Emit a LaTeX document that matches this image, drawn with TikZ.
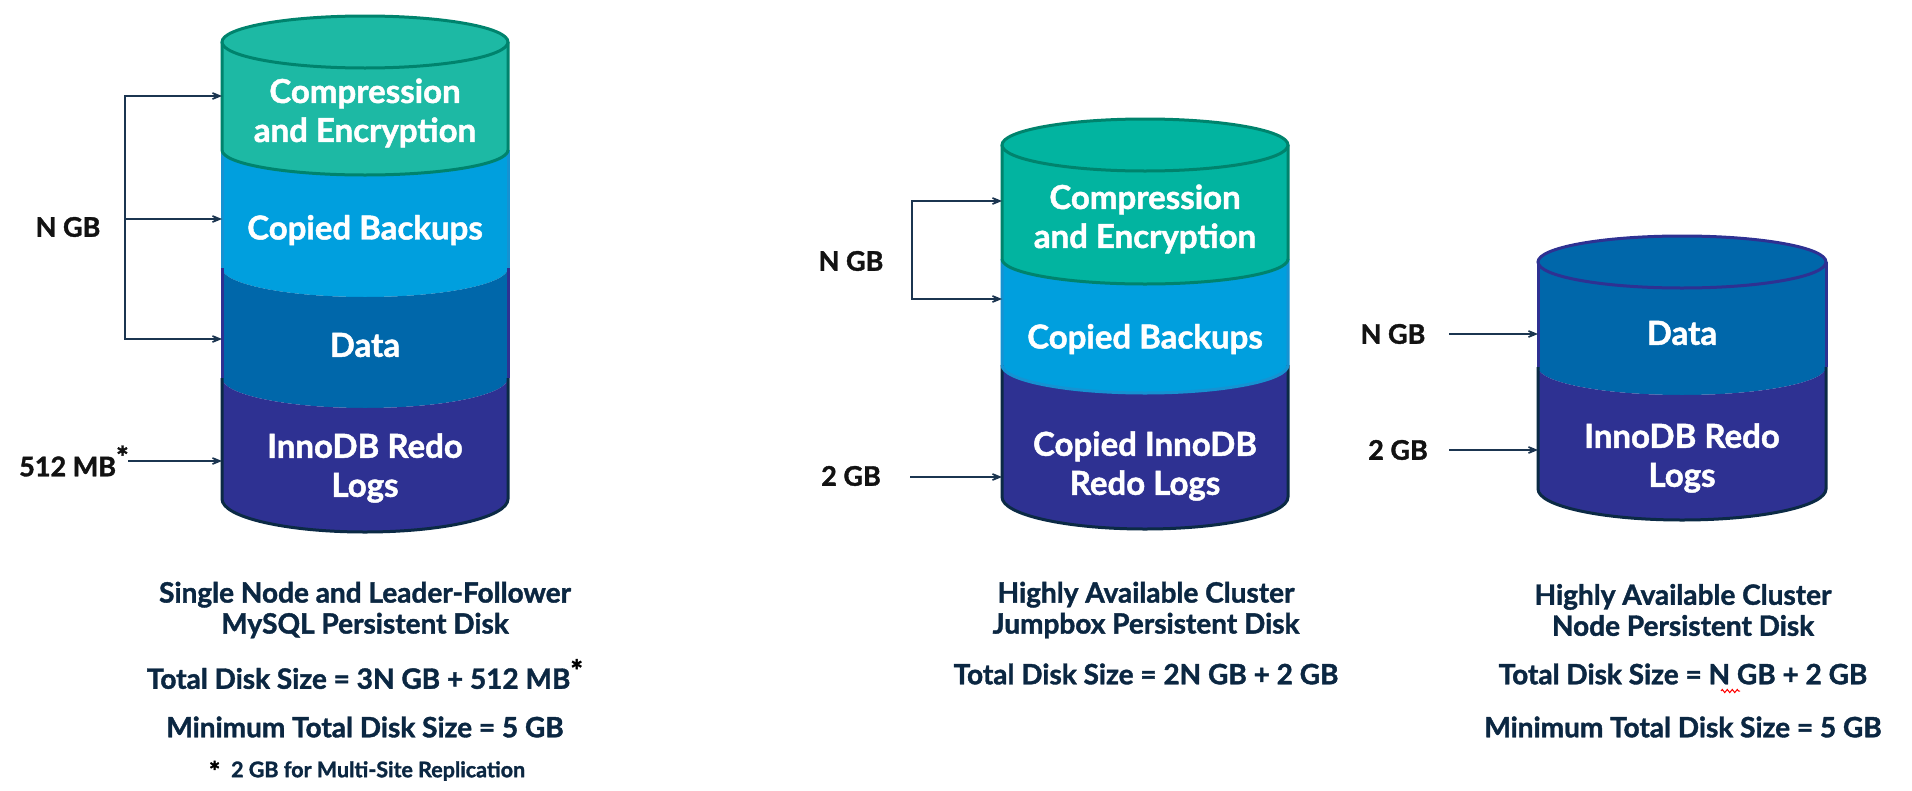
\documentclass[tikz,border=0pt]{standalone}
\usepackage{fontspec}
\setmainfont{Lato}[BoldFeatures={FakeBold=1.4}]
\usetikzlibrary{arrows.meta,decorations.pathmorphing}
\definecolor{greenA}{HTML}{1DB9A4}
\definecolor{greenB}{HTML}{02B4A0}
\definecolor{greenL}{HTML}{00836D}
\definecolor{blueA}{HTML}{009FDE}
\definecolor{blueL}{HTML}{1592D2}
\definecolor{dataA}{HTML}{0067AA}
\definecolor{indigoA}{HTML}{2E3192}
\definecolor{navyL}{HTML}{0B2A45}
\definecolor{captxt}{HTML}{0B2742}
\definecolor{arrowc}{HTML}{1B3550}
\definecolor{sidetxt}{HTML}{121212}
% band: cx, rx, ytop, rytop, ybot, rybot, colour
\newcommand\cylband[7]{\fill[#7] (#1-#2,-#3) -- (#1-#2,-#5) arc[start angle=180,end angle=360,x radius=#2,y radius=#6] -- (#1+#2,-#3) arc[start angle=0,end angle=-180,x radius=#2,y radius=#4] -- cycle;}
% rim: cx, rx, ytop, ybot, rybot, colour
\newcommand\cylrim[6]{\draw[#6,line width=3pt] (#1-#2,-#3) -- (#1-#2,-#4) arc[start angle=180,end angle=360,x radius=#2,y radius=#5] -- (#1+#2,-#3);}
% sides: cx, rx, ytop, ybot, colour
\newcommand\cylsides[5]{\draw[#5,line width=3pt] (#1-#2,-#3) -- (#1-#2,-#4) (#1+#2,-#3) -- (#1+#2,-#4);}
\tikzset{
  mytip/.tip={Stealth[length=17pt,width=14pt,inset=11pt]},
  lbl/.style={text=white,font=\fontsize{33}{39}\selectfont\bfseries,align=center,inner sep=0pt},
  sidelbl/.style={text=sidetxt,font=\fontsize{27}{32}\selectfont\bfseries,inner sep=0pt},
  captext/.style={text=captxt,font=\fontsize{28}{31}\selectfont\bfseries,align=center,inner sep=0pt},
  foottext/.style={text=captxt,font=\fontsize{21.5}{26}\selectfont\bfseries,inner sep=0pt},
  conn/.style={draw=arrowc,line width=2pt,-mytip},
  bconn/.style={draw=arrowc,line width=2pt,mytip-mytip},
}
\begin{document}
\begin{tikzpicture}[x=1pt,y=1pt]
\fill[white] (0,0) rectangle (1912,-790);
\useasboundingbox (0,0) rectangle (1912,-790);

% ---------- cylinder 1 ----------
\cylband{365}{143}{42}{26}{150}{25}{greenA}
\cylband{365}{143}{150}{25}{268}{29}{blueA}
\cylband{365}{143}{268}{29}{378}{30}{dataA}
\cylband{365}{143}{378}{30}{499}{33}{indigoA}
\cylsides{365}{143}{150}{268}{blueL}
\cylsides{365}{143}{268}{378}{indigoA}
\cylrim{365}{143}{378}{499}{33}{navyL}
\cylrim{365}{143}{42}{150}{25}{greenL}
\filldraw[fill=greenA,draw=greenL,line width=3pt] (365,-42) ellipse[x radius=143,y radius=26];

\node[lbl] (c1a) at (365,-113) {Compression\\and Encryption};
\node[lbl] (c1b) at (365,-230) {Copied Backups};
\node[lbl] (c1c) at (365,-345) {Data};
\node[lbl] (c1d) at (365,-468) {InnoDB Redo\\Logs};

% ---------- cylinder 2 ----------
\cylband{1145}{143}{145}{26}{259}{25}{greenB}
\cylband{1145}{143}{259}{25}{365}{28}{blueA}
\cylband{1145}{143}{365}{28}{497}{32}{indigoA}
\cylrim{1145}{143}{365}{497}{32}{navyL}
\cylrim{1145}{143}{259}{365}{28}{blueL}
\cylrim{1145}{143}{145}{259}{25}{greenL}
\filldraw[fill=greenB,draw=greenL,line width=3pt] (1145,-145) ellipse[x radius=143,y radius=26];

\node[lbl] (c2a) at (1145,-219) {Compression\\and Encryption};
\node[lbl] (c2b) at (1145,-339) {Copied Backups};
\node[lbl] (c2c) at (1145,-466) {Copied InnoDB\\Redo Logs};

% ---------- cylinder 3 ----------
\cylband{1682}{144}{262}{26}{367}{28}{dataA}
\cylband{1682}{144}{367}{28}{489}{31}{indigoA}
\cylrim{1682}{144}{367}{489}{31}{navyL}
\cylsides{1682}{144}{262}{367}{indigoA}
\filldraw[fill=dataA,draw=indigoA,line width=3pt] (1682,-262) ellipse[x radius=144,y radius=26];

\node[lbl] (c3a) at (1682,-333) {Data};
\node[lbl] (c3b) at (1682,-458) {InnoDB Redo\\Logs};

% ---------- side labels ----------
\node[sidelbl] (n1) at (68,-227) {N GB};
\node[sidelbl] (m1) at (74,-461) {512 MB\raisebox{8pt}{\fontsize{30}{32}\selectfont *}};
\node[sidelbl] (n2) at (851,-261) {N GB};
\node[sidelbl] (g2) at (851,-476) {2 GB};
\node[sidelbl] (n3) at (1393,-334) {N GB};
\node[sidelbl] (g3) at (1398,-450) {2 GB};

% ---------- connectors ----------
\coordinate (t1a) at (222,-96);
\coordinate (t1b) at (222,-219);
\coordinate (t1c) at (222,-339);
\coordinate (t1d) at (222,-461);
\coordinate (k1a) at (125,-96);
\coordinate (k1b) at (125,-219);
\coordinate (k1c) at (125,-339);
\coordinate (s1d) at (128,-461);
\draw[bconn] (t1a) -- (k1a) -- (k1c) -- (t1c);
\draw[conn] (k1b) -- (t1b);
\draw[conn] (s1d) -- (t1d);

\coordinate (t2a) at (1002,-201);
\coordinate (t2b) at (1002,-299);
\coordinate (t2c) at (1002,-477);
\coordinate (k2a) at (912,-201);
\coordinate (k2b) at (912,-299);
\coordinate (s2c) at (910,-477);
\draw[bconn] (t2a) -- (k2a) -- (k2b) -- (t2b);
\draw[conn] (s2c) -- (t2c);

\coordinate (t3a) at (1538,-334);
\coordinate (t3b) at (1538,-450);
\coordinate (s3a) at (1449,-334);
\coordinate (s3b) at (1449,-450);
\draw[conn] (s3a) -- (t3a);
\draw[conn] (s3b) -- (t3b);

% ---------- captions ----------
\node[captext] (p1) at (365,-610) {Single Node and Leader-Follower\\MySQL Persistent Disk};
\node[captext] (p1t) at (365,-674) {Total Disk Size = 3N GB + 512 MB\textcolor{black}{\raisebox{7pt}{\fontsize{30}{32}\selectfont *}}};
\node[captext] (p1m) at (365,-727) {Minimum Total Disk Size = 5 GB};
\node[foottext] (p1f) at (367,-771) {\textcolor{black}{\fontsize{27}{28}\selectfont\raisebox{-4pt}{*}}\hspace{0.5em}2 GB for Multi-Site Replication};

\node[captext] (p2) at (1146,-610) {Highly Available Cluster\\Jumpbox Persistent Disk};
\node[captext] (p2t) at (1146,-674) {Total Disk Size = 2N GB + 2 GB};

\node[captext] (p3) at (1683,-610) {Highly Available Cluster\\Node Persistent Disk};
\node[captext] (p3t) at (1683,-674) {Total Disk Size = N GB + 2 GB};
\node[captext] (p3m) at (1683,-727) {Minimum Total Disk Size = 5 GB};
\draw[red,line width=1pt,decorate,decoration={zigzag,segment length=5pt,amplitude=1.6pt}] (1721,-691) -- (1740,-691);
\end{tikzpicture}
\end{document}
